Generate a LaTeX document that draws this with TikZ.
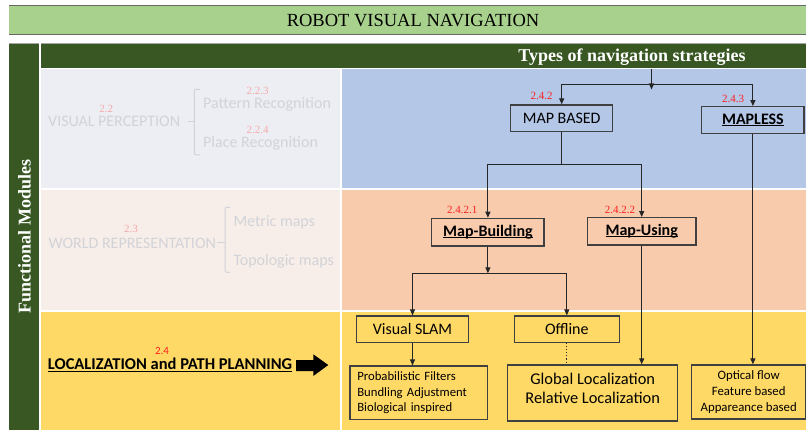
\documentclass[tikz,border=0pt]{standalone}
\usepackage{fontspec}
\setmainfont{Liberation Serif}
\newfontfamily\calfont{Carlito}
\usetikzlibrary{arrows.meta}
\newsavebox\ulbox
\newcommand\wul[1]{\sbox\ulbox{#1}\rlap{\rule[-1.8pt]{\wd\ulbox}{0.9pt}}\usebox\ulbox}
\definecolor{ltgreen}{HTML}{A9D18E}
\definecolor{dkgreen}{HTML}{385723}
\definecolor{rowAl}{HTML}{EDEEF3}
\definecolor{rowAr}{HTML}{B4C7E7}
\definecolor{rowBl}{HTML}{F7EEEA}
\definecolor{rowBr}{HTML}{F8CBAD}
\definecolor{rowC}{HTML}{FFD966}
\definecolor{fadegray}{HTML}{D2D3D8}
\definecolor{fadepink}{HTML}{F5AAAA}
\definecolor{boxline}{HTML}{404040}
\definecolor{numred}{HTML}{FF2020}
\begin{document}
\begin{tikzpicture}[x=1pt,y=-1pt,
  stratbox/.style={draw=boxline, line width=1.2pt, inner sep=0pt, align=center, font=\calfont\fontsize{16}{19}\selectfont},
  fadetxt/.style={text=fadegray, inner sep=0pt, font=\calfont\fontsize{16}{19}\selectfont},
  fadenum/.style={text=fadepink, inner sep=0pt, font=\fontsize{11}{12}\selectfont},
  numlbl/.style={text=numred, inner sep=0pt, font=\fontsize{11}{12}\selectfont},
  conn/.style={draw=black!85, line width=1.1pt},
  arr/.style={conn, -{Triangle[length=6pt,width=5pt]}},
  fadeline/.style={draw=fadegray, line width=1pt, rounded corners=2pt}]
\useasboundingbox (0,0) rectangle (806,430);
% title bar
\fill[ltgreen] (9,5.5) rectangle (806,34);
\draw[black!60, line width=1.3pt] (9,5.5) -- (806,5.5);
\draw[black!60, line width=1.3pt] (9,34.3) -- (806,34.3);
\node[font=\fontsize{18.5}{20}\selectfont, anchor=base, inner sep=0pt] (title) at (413,27) {ROBOT VISUAL NAVIGATION};
% header and side bar
\fill[dkgreen] (41,43.3) rectangle (806,67.7);
\fill[dkgreen] (9,43.3) rectangle (39,430);
\draw[black!35, line width=0.8pt] (9,43.3) -- (39,43.3);
\draw[black!35, line width=0.8pt] (41,43.3) -- (806,43.3);
\node[font=\bfseries\fontsize{18}{20}\selectfont, text=white, anchor=base, inner sep=0pt] (types) at (632,62) {Types of navigation strategies};
\node[font=\bfseries\fontsize{18}{20}\selectfont, text=white, rotate=90, inner sep=0pt] (func) at (24.5,236.5) {Functional Modules};
% rows
\fill[rowAl] (41,68.7) rectangle (340,188.3);
\fill[rowAr] (342,68.7) rectangle (806,188.3);
\fill[rowBl] (41,190.5) rectangle (340,310);
\fill[rowBr] (342,190.5) rectangle (806,310);
\fill[rowC] (41,312) rectangle (340,430);
\fill[rowC] (342,312) rectangle (806,430);
% row 1 left (faded)
\node[fadetxt, anchor=base west] (vp) at (48,126.7) {VISUAL PERCEPTION};
\node[fadenum, anchor=base] (n22) at (106.3,112.3) {2.2};
\node[fadetxt, anchor=base west] (patt) at (203,108.3) {Pattern Recognition};
\node[fadenum, anchor=base] (n223) at (257.5,95) {2.2.3};
\node[fadetxt, anchor=base west] (place) at (203,147.3) {Place Recognition};
\node[fadenum, anchor=base] (n224) at (257.5,134) {2.2.4};
\draw[fadeline] (200,89.3) -- (194.3,89.3) -- (194.3,155) -- (200,155);
\draw[fadeline] (188.3,121.7) -- (194.3,121.7);
% row 2 left (faded)
\node[fadetxt, anchor=base west] (wr) at (48.3,248.3) {WORLD REPRESENTATION};
\node[fadenum, anchor=base] (n23) at (131,232.3) {2.3};
\node[fadetxt, anchor=base west] (metric) at (233.3,226.7) {Metric maps};
\node[fadetxt, anchor=base west] (topo) at (233.3,266) {Topologic maps};
\draw[fadeline] (230,207.3) -- (225,207.3) -- (225,272.3) -- (230,272.3);
\draw[fadeline] (216.7,242.3) -- (225,242.3);
% row 3 left
\node[numlbl, font=\calfont\fontsize{11}{12}\selectfont, anchor=base] (n24) at (162,354.3) {2.4};
\node[font=\calfont\bfseries\fontsize{16.5}{19}\selectfont, anchor=base west, inner sep=0pt] (loc) at (47.7,370) {\wul{LOCALIZATION and PATH PLANNING}};
\fill (296,360) -- (313.3,360) -- (313.3,354.3) -- (328.3,365) -- (313.3,376) -- (313.3,371) -- (296,371) -- cycle;
% boxes
\node[stratbox, minimum width=102pt, minimum height=26.7pt] (mapbased) at (561.7,118.3) {MAP BASED};
\node[stratbox, minimum width=102.3pt, minimum height=26.6pt] (mapless) at (752.9,120) {\bfseries\wul{MAPLESS}};
\node[stratbox, minimum width=112.3pt, minimum height=27.7pt] (mapbuild) at (487.9,232.2) {\bfseries\wul{Map-Building}};
\node[stratbox, minimum width=108.7pt, minimum height=27.3pt] (maputil) at (641.7,231.3) {\bfseries\wul{Map-Using}};
\node[stratbox, minimum width=111.6pt, minimum height=26.3pt] (vslam) at (412.5,329.2) {Visual SLAM};
\node[stratbox, minimum width=105pt, minimum height=26.3pt] (offline) at (566.8,329.2) {Offline};
\node[stratbox, minimum width=137.7pt, minimum height=53.3pt, inner xsep=7.3pt, text width=123pt, align=left, font=\calfont\fontsize{12.7}{15.4}\selectfont] (prob) at (418.8,392.7) {Probabilistic Filters\\Bundling Adjustment\\Biological inspired};
\node[stratbox, minimum width=170pt, minimum height=56pt, font=\calfont\fontsize{16.4}{19.3}\selectfont] (global) at (592.7,393) {Global Localization\\Relative Localization\rule[-10pt]{0pt}{1pt}};
\node[stratbox, minimum width=114pt, minimum height=54pt, font=\calfont\fontsize{12.8}{15.8}\selectfont] (optical) at (748.7,392) {Optical flow\\Feature based\\Appareance based};
% numbers
\node[numlbl] (n242) at (541.7,96) {2.4.2};
\node[numlbl] (n243) at (733,99.3) {2.4.3};
\node[numlbl] (n2421) at (462.3,210) {2.4.2.1};
\node[numlbl] (n2422) at (620,210) {2.4.2.2};
% connectors
\coordinate (j0) at (651.5,69.5);
\coordinate (j0tip) at (651.5,89.5);
\coordinate (j1) at (651.5,84.3);
\coordinate (j2) at (561.7,164.3);
\coordinate (j3) at (487.9,273.3);
\draw[arr] (j0) -- (j0tip);
\draw[arr] (j1) -| (mapbased.north);
\draw[arr] (j1) -| (mapless.north);
\draw[conn] (mapbased.south) -- (j2);
\draw[arr] (j2) -| (mapbuild.north);
\draw[arr] (j2) -| (maputil.north);
\draw[arr] (mapbuild.south) -- (j3);
\draw[arr] (j3) -| (vslam.north);
\draw[arr] (j3) -| (offline.north);
\draw[arr] (vslam.south) -- (vslam.south |- prob.north);
\draw[conn, dotted] (offline.south) -- (offline.south |- global.north);
\draw[arr] (maputil.south) -- (maputil.south |- global.north);
\draw[arr] (mapless.south) -- (mapless.south |- optical.north);
\end{tikzpicture}
\end{document}
